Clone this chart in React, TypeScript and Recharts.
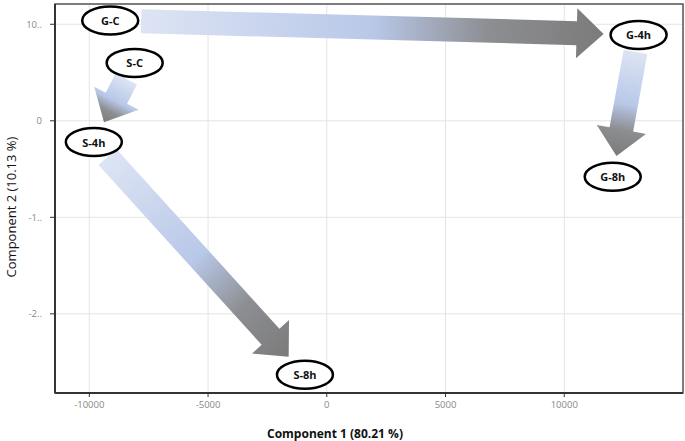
import React from "react";
import {
  CartesianGrid,
  Label,
  ReferenceArea,
  ReferenceLine,
  Scatter,
  ScatterChart,
  XAxis,
  YAxis,
} from "recharts";

// PCA scores
const sampleNames = ["G-C", "S-C", "S-4h", "G-4h", "G-8h", "S-8h"];
const component1 = [-9120, -8090, -9810, 13130, 12040, -920];
const component2 = [1040, 600, -220, 890, -580, -2630];

const arrowFrom = ["G-C", "S-C", "S-4h", "G-4h"];
const arrowTo = ["G-4h", "S-4h", "S-8h", "G-8h"];

const xTicks = [-10000, -5000, 0, 5000, 10000];
const yTicks = [1000, 0, -1000, -2000];
const xDomain = [-11445, 15000];
const yDomain = [-2820, 1210];

const points = sampleNames.map((name, i) => ({
  name,
  x: component1[i],
  y: component2[i],
}));

const RX = 28;
const RY = 14;
const SHAFT = 24;
const HEAD_W = 50;
const HEAD_L = 27;

const edge = (ux: number, uy: number) =>
  1 / Math.sqrt((ux / RX) ** 2 + (uy / RY) ** 2);

const GradientArrow = (props: any) => {
  const { x1, y1, x2, y2, gid } = props;
  if (x1 == null || x2 == null) return null;
  const dx = x2 - x1;
  const dy = y2 - y1;
  const len = Math.hypot(dx, dy);
  const ux = dx / len;
  const uy = dy / len;
  const nx = -uy;
  const ny = ux;
  const e = edge(ux, uy);
  const sx = x1 + ux * (e + 3);
  const sy = y1 + uy * (e + 3);
  const tx = x2 - ux * (e + 7);
  const ty = y2 - uy * (e + 7);
  const bx = tx - ux * HEAD_L;
  const by = ty - uy * HEAD_L;
  const pts = [
    [sx + (nx * SHAFT) / 2, sy + (ny * SHAFT) / 2],
    [bx + (nx * SHAFT) / 2, by + (ny * SHAFT) / 2],
    [bx + (nx * HEAD_W) / 2, by + (ny * HEAD_W) / 2],
    [tx, ty],
    [bx - (nx * HEAD_W) / 2, by - (ny * HEAD_W) / 2],
    [bx - (nx * SHAFT) / 2, by - (ny * SHAFT) / 2],
    [sx - (nx * SHAFT) / 2, sy - (ny * SHAFT) / 2],
  ]
    .map((p) => p.join(","))
    .join(" ");
  return (
    <g>
      <defs>
        <linearGradient
          id={gid}
          gradientUnits="userSpaceOnUse"
          x1={sx}
          y1={sy}
          x2={tx}
          y2={ty}
        >
          <stop offset="0" stopColor="#dde4f4" />
          <stop offset="0.5" stopColor="#b8c8e8" />
          <stop offset="0.75" stopColor="#8d8e92" />
          <stop offset="1" stopColor="#7b7b7b" />
        </linearGradient>
      </defs>
      <polygon points={pts} fill={`url(#${gid})`} />
    </g>
  );
};

const Bubble = (props: any) => {
  const { cx, cy, payload } = props;
  return (
    <g>
      <ellipse
        cx={cx}
        cy={cy}
        rx={RX}
        ry={RY}
        fill="#fff"
        stroke="#000"
        strokeWidth={2.5}
      />
      <text
        x={cx}
        y={cy}
        textAnchor="middle"
        dominantBaseline="central"
        fontFamily="Open Sans"
        fontWeight={700}
        fontSize={11}
        fill="#111"
      >
        {payload.name}
      </text>
    </g>
  );
};

const find = (name: string) => points.find((p) => p.name === name)!;

export default function App() {
  return (
    <div style={{ position: "absolute", left: 0, top: 0 }}>
      <ScatterChart
        width={685}
        height={441}
        margin={{ top: 4, right: 2, bottom: 0, left: 0 }}
      >
        <CartesianGrid stroke="#e4e4e4" />
        <XAxis
          type="number"
          dataKey="x"
          domain={xDomain}
          ticks={xTicks}
          allowDataOverflow
          height={48}
          tickSize={4}
          tickMargin={4}
          axisLine={{ stroke: "#333", strokeWidth: 2 }}
          tickLine={{ stroke: "#333" }}
          tick={{ fill: "#888", fontSize: 9.5, fontFamily: "Open Sans" }}
        >
          <Label
            content={(p: any) => {
              const vb = p.viewBox;
              return (
                <text
                  x={335}
                  y={vb.y + 40}
                  textAnchor="middle"
                  dominantBaseline="central"
                  fill="#111"
                  fontSize={12}
                  fontWeight={700}
                  fontFamily="Open Sans"
                >
                  Component 1 (80.21 %)
                </text>
              );
            }}
          />
        </XAxis>
        <YAxis
          type="number"
          dataKey="y"
          domain={yDomain}
          ticks={yTicks}
          allowDataOverflow
          width={55}
          tickSize={5}
          tickMargin={8}
          tickFormatter={(v: number) =>
            v === 0 ? "0" : String(v).slice(0, 2) + ".."
          }
          axisLine={{ stroke: "#333", strokeWidth: 2 }}
          tickLine={{ stroke: "#333" }}
          tick={{ fill: "#888", fontSize: 9.5, fontFamily: "Open Sans" }}
        >
          <Label
            content={() => {
              const x = 11;
              const y = 207;
              return (
                <text
                  x={x}
                  y={y}
                  transform={`rotate(-90, ${x}, ${y})`}
                  textAnchor="middle"
                  dominantBaseline="central"
                  fill="#111"
                  fontSize={13}
                  fontFamily="Open Sans"
                >
                  Component 2 (10.13 %)
                </text>
              );
            }}
          />
        </YAxis>
        <ReferenceArea
          x1={xDomain[0]}
          x2={xDomain[1]}
          y1={yDomain[0]}
          y2={yDomain[1]}
          fill="none"
          stroke="#555"
          strokeWidth={1.5}
          ifOverflow="visible"
        />
        {arrowFrom.map((from, i) => {
          const a = find(from);
          const b = find(arrowTo[i]);
          return (
            <ReferenceLine
              key={from + arrowTo[i]}
              segment={[
                { x: a.x, y: a.y },
                { x: b.x, y: b.y },
              ]}
              ifOverflow="visible"
              shape={(p: any) => <GradientArrow {...p} gid={`arrowGrad${i}`} />}
            />
          );
        })}
        <Scatter data={points} shape={Bubble} isAnimationActive={false} />
      </ScatterChart>
    </div>
  );
}
